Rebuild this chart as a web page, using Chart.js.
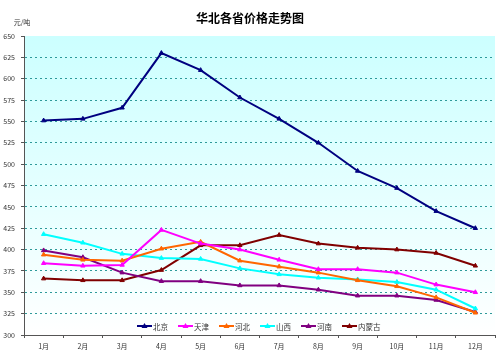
<!DOCTYPE html>
<html>
<head>
<meta charset="utf-8">
<script src="https://cdn.jsdelivr.net/npm/chart.js@4/dist/chart.umd.min.js"></script>
<style>
html,body{margin:0;padding:0;background:#fff;}
#wrap{position:relative;width:500px;height:355px;}
</style>
</head>
<body>
<div id="wrap"><canvas id="c" width="500" height="355"></canvas></div>
<script>
const months = ['1月','2月','3月','4月','5月','6月','7月','8月','9月','10月','11月','12月'];
const beijing  = [551, 553, 566, 630, 610, 578, 553, 525, 492, 472, 445, 425];
const tianjin  = [384, 381, 382, 423, 407, 400, 388, 377, 377, 373, 359, 350];
const hebei    = [394, 388, 387, 401, 409, 387, 380, 373, 364, 357, 344, 326];
const shanxi   = [418, 408, 395, 390, 389, 378, 371, 367, 365, 362, 353, 331];
const henan    = [399, 391, 373, 363, 363, 358, 358, 353, 346, 346, 341, 327];
const neimenggu= [366, 364, 364, 376, 405, 405, 417, 407, 402, 400, 396, 381];
const seriesNames = ['北京','天津','河北','山西','河南','内蒙古'];
const seriesColors = ['#000080','#FF00FF','#FF6600','#00FFFF','#800080','#800000'];
const yMin = 300, yMax = 650, yStep = 25;
const titleText = '华北各省价格走势图';
const unitText = '元/吨';

const allData = [beijing, tianjin, hebei, shanxi, henan, neimenggu];
const datasets = allData.map((d,i)=>({
  label: seriesNames[i],
  data: d,
  borderColor: seriesColors[i],
  backgroundColor: seriesColors[i],
  borderWidth: 2,
  pointStyle: 'triangle',
  pointRadius: 2.5,
  pointBorderWidth: 1,
  tension: 0,
  fill: false
}));

const bgPlugin = {
  id: 'bg',
  beforeDraw(chart){
    const {ctx, chartArea:a} = chart;
    ctx.save();
    const g = ctx.createLinearGradient(0, a.top, 0, a.bottom);
    g.addColorStop(0, '#CCFFFF');
    g.addColorStop(0.55, '#E6FFFF');
    g.addColorStop(1, '#FFFFFF');
    ctx.fillStyle = g;
    ctx.fillRect(a.left, a.top, a.right - a.left, a.bottom - a.top);
    ctx.restore();
  },
  afterDraw(chart){
    const {ctx} = chart;
    ctx.save();
    ctx.fillStyle = '#000';
    ctx.font = 'bold 12px "Noto Sans CJK SC"';
    ctx.textAlign = 'center';
    ctx.textBaseline = 'middle';
    ctx.fillText(titleText, 250, 18);
    ctx.font = '7px "Noto Sans CJK SC"';
    ctx.fillStyle = '#333';
    ctx.fillText(unitText, 22, 22);
    // legend inside plot
    let x = 137;
    const y = 326;
    ctx.font = '7.5px "Noto Sans CJK SC"';
    ctx.textAlign = 'left';
    chart.data.datasets.forEach((ds)=>{
      ctx.strokeStyle = ds.borderColor;
      ctx.lineWidth = 2;
      ctx.beginPath();
      ctx.moveTo(x, y); ctx.lineTo(x+15, y); ctx.stroke();
      ctx.fillStyle = ds.borderColor;
      ctx.beginPath();
      ctx.moveTo(x+7.5, y-3); ctx.lineTo(x+10.5, y+2); ctx.lineTo(x+4.5, y+2); ctx.closePath(); ctx.fill();
      ctx.fillStyle = '#333';
      ctx.fillText(ds.label, x+16, y+1);
      x += 16 + ctx.measureText(ds.label).width + 10;
    });
    ctx.restore();
  }
};

new Chart(document.getElementById('c'), {
  type: 'line',
  data: { labels: months, datasets },
  plugins: [bgPlugin],
  options: {
    responsive: false,
    animation: false,
    devicePixelRatio: 1,
    layout: { padding: { top: 36, right: 5, bottom: 0, left: 0 } },
    plugins: { legend: { display: false }, tooltip: { enabled: false }, title: { display: false } },
    scales: {
      x: {
        type: 'category',
        offset: true,
        grid: { offset: true, drawOnChartArea: false, drawTicks: true, tickLength: 3, color: '#555' },
        border: { display: true, color: '#555', width: 1 },
        ticks: { color: '#333', font: { size: 7, family: '"Noto Sans CJK SC"' }, padding: 4, maxRotation: 0, autoSkip: false },
        afterFit(s){ s.height = 20; }
      },
      y: {
        min: yMin, max: yMax,
        grid: {
          color: (c) => (c.tick && (c.tick.value === yMax || c.tick.value === yMin)) ? 'rgba(0,0,0,0)' : '#2E9A9A',
          drawTicks: true, tickLength: 3, tickColor: '#555', lineWidth: 1
        },
        border: { display: true, color: '#555', width: 1, dash: [2, 3] },
        ticks: { stepSize: yStep, color: '#333', font: { size: 7, family: '"Noto Sans CJK SC"' }, padding: 6 },
        afterFit(s){ s.width = 24; }
      }
    }
  }
});
</script>
</body>
</html>
